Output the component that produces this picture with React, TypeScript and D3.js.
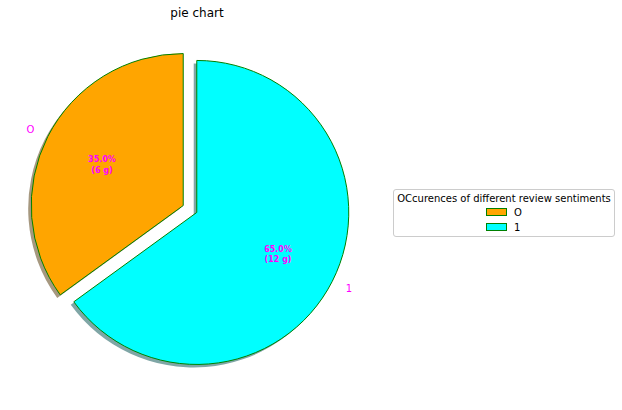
import React from "react";
import * as d3 from "d3";

const sentiments = ["O", "1"];
const shares = [35, 65];
const grams = [6, 12];
const sliceColors = ["#ffa500", "#00ffff"];

const W = 622;
const H = 410;
const cx = 190;
const cy = 209;
const radius = 152;
const explode = 0.05;

function shade(c: string) {
  // matplotlib shadow: 0.3 * facecolor at alpha 0.5
  const rgb = d3.rgb(c);
  return d3.rgb(rgb.r * 0.3, rgb.g * 0.3, rgb.b * 0.3).toString();
}

export default function App() {
  const pie = d3
    .pie<number>()
    .sort(null)
    .startAngle(0)
    .endAngle(-2 * Math.PI)
    .value((d) => d);
  const arcs = pie(shares);
  const arc = d3.arc<d3.PieArcDatum<number>>().innerRadius(0).outerRadius(radius);
  const font = "DejaVu Sans, sans-serif";

  const slices = arcs.map((a, i) => {
    const mid = (a.startAngle + a.endAngle) / 2;
    const dx = Math.sin(mid);
    const dy = -Math.cos(mid);
    const ox = cx + explode * radius * dx;
    const oy = cy + explode * radius * dy;
    return { a, i, dx, dy, ox, oy };
  });

  const shadowOff = 0.02 * radius;

  return (
    <svg width={W} height={H} style={{ position: "absolute", left: 0, top: 0 }}>
      <rect width={W} height={H} fill="#fff" />
      <text x={197} y={17} textAnchor="middle" fontFamily={font} fontSize={12} fill="#000">
        pie chart
      </text>

      {/* shadows */}
      {slices.map((s) => (
        <path
          key={"sh" + s.i}
          d={arc(s.a) || ""}
          transform={`translate(${s.ox - shadowOff},${s.oy + shadowOff})`}
          fill={shade(sliceColors[s.i])}
          fillOpacity={0.5}
        />
      ))}

      {/* wedges */}
      {slices.map((s) => (
        <path
          key={"w" + s.i}
          d={arc(s.a) || ""}
          transform={`translate(${s.ox},${s.oy})`}
          fill={sliceColors[s.i]}
          stroke="#008000"
          strokeWidth={1}
        />
      ))}

      {/* labels */}
      {slices.map((s) => (
        <text
          key={"l" + s.i}
          x={s.ox + 1.1 * radius * s.dx}
          y={s.oy + 1.1 * radius * s.dy}
          dy="0.35em"
          textAnchor={s.dx < 0 ? "end" : "start"}
          fontFamily={font}
          fontSize={10}
          fill="#ff00ff"
        >
          {sentiments[s.i]}
        </text>
      ))}

      {/* percentages */}
      {slices.map((s) => {
        const px = s.ox + 0.6 * radius * s.dx;
        const py = s.oy + 0.6 * radius * s.dy;
        return (
          <text
            key={"p" + s.i}
            x={px}
            y={py}
            textAnchor="middle"
            fontFamily={font}
            fontSize={8}
            fontWeight="bold"
            fill="#ff00ff"
          >
            <tspan x={px} dy="-0.25em">{shares[s.i].toFixed(1)}%</tspan>
            <tspan x={px} dy="1.3em">({grams[s.i]} g)</tspan>
          </text>
        );
      })}

      {/* legend */}
      <g>
        <rect
          x={393.5}
          y={189.5}
          width={221}
          height={47}
          rx={2.5}
          fill="#fff"
          fillOpacity={0.8}
          stroke="#cccccc"
        />
        <text x={504} y={202} textAnchor="middle" fontFamily={font} fontSize={10} fill="#000">
          OCcurences of different review sentiments
        </text>
        {sentiments.map((s, i) => (
          <g key={"lg" + i} transform={`translate(486,${212 + i * 15})`}>
            <rect x={0.5} y={-3.5} width={20} height={7} fill={sliceColors[i]} stroke="#008000" />
            <text x={28} y={0} dy="0.35em" fontFamily={font} fontSize={10} fill="#000">
              {s}
            </text>
          </g>
        ))}
      </g>
    </svg>
  );
}
